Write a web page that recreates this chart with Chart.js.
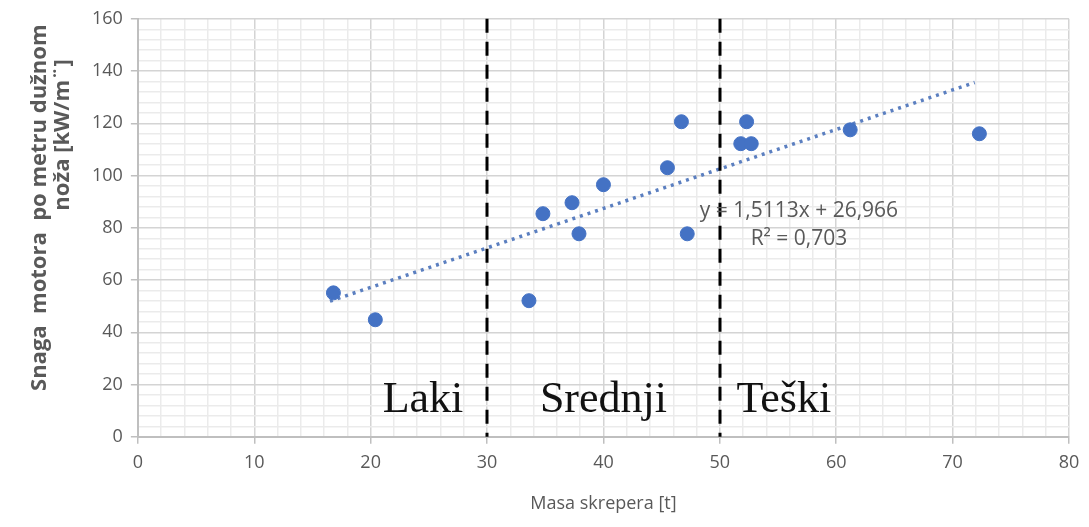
<!DOCTYPE html>
<html>
<head>
<meta charset="utf-8">
<script src="https://cdn.jsdelivr.net/npm/chart.js@4"></script>
<style>
  html, body { margin: 0; padding: 0; background: #fff; }
  #wrap { width: 1089px; height: 527px; }
</style>
</head>
<body>
<div id="wrap"><canvas id="graph"></canvas></div>
<script>
// data
var masa = [16.8, 20.4, 33.6, 34.8, 37.3, 37.9, 40.0, 45.5, 46.7, 47.2, 51.8, 52.3, 52.7, 61.2, 72.3];
var snaga = [55.1, 44.8, 52.1, 85.4, 89.6, 77.7, 96.5, 103, 120.6, 77.7, 112.2, 120.6, 112.2, 117.5, 116];
var trend = [1.5113, 26.966]; // slope, intercept
var granice = [30, 50];
var klase = ["Laki", "Srednji", "Teški"];
var klaseX = [24.5, 40, 55.5];
var klaseY = 14;
var jednadzba = ["y = 1,5113x + 26,966", "R² = 0,703"];
var yNaslov = ["Snaga  motora  po metru dužnom", "noža [kW/m¨]"];

var points = masa.map(function (m, i) { return { x: m, y: snaga[i] }; });
var xMin = Math.min.apply(null, masa) - 0.3;
var xMax = Math.max.apply(null, masa) - 0.4;
var trendPts = [xMin, xMax].map(function (x) { return { x: x, y: trend[0] * x + trend[1] }; });

var grey = "#595959";

var extras = {
  id: "extras",
  afterDatasetsDraw: function (c) {
    var ctx = c.ctx, xs = c.scales.x, ys = c.scales.y, a = c.chartArea;
    ctx.save();
    // class boundaries
    ctx.strokeStyle = "#000";
    ctx.lineWidth = 3;
    ctx.setLineDash([14, 9]);
    granice.forEach(function (g) {
      var px = Math.round(xs.getPixelForValue(g));
      ctx.beginPath();
      ctx.moveTo(px, ys.getPixelForValue(160));
      ctx.lineTo(px, ys.getPixelForValue(0));
      ctx.stroke();
    });
    ctx.setLineDash([]);
    // class names
    ctx.fillStyle = "#111";
    ctx.font = "44px 'Liberation Serif', 'DejaVu Serif', serif";
    ctx.textAlign = "center";
    ctx.textBaseline = "middle";
    klase.forEach(function (k, i) {
      ctx.fillText(k, xs.getPixelForValue(klaseX[i]), ys.getPixelForValue(klaseY));
    });
    // trendline equation
    ctx.fillStyle = grey;
    ctx.font = "21px 'Open Sans', sans-serif";
    ctx.fillText(jednadzba[0], xs.getPixelForValue(56.8), ys.getPixelForValue(86.5));
    ctx.fillText(jednadzba[1], xs.getPixelForValue(56.8), ys.getPixelForValue(75.8));
    // y axis title, two lines as in the original
    ctx.font = "bold 22px 'Open Sans', sans-serif";
    var h = a.bottom - a.top;
    [[40, 0.452], [63, 0.278]].forEach(function (p, i) {
      ctx.save();
      ctx.translate(p[0], a.top + h * p[1]);
      ctx.rotate(-Math.PI / 2);
      ctx.fillText(yNaslov[i], 0, 0);
      ctx.restore();
    });
    ctx.restore();
  }
};

var chart = document.getElementById("graph").getContext("2d");
var graph = new Chart(chart, {
  type: "scatter",
  data: {
    datasets: [
      {
        label: "Snaga",
        data: points,
        backgroundColor: "#4472c4",
        borderColor: "#4472c4",
        pointRadius: 7,
        pointHoverRadius: 7,
        order: 1,
      },
      {
        label: "Trend",
        type: "line",
        data: trendPts,
        borderColor: "#5b7fc0",
        borderWidth: 3.5,
        borderDash: [3, 5],
        pointRadius: 0,
        fill: false,
        order: 2,
      },
    ],
  },
  options: {
    responsive: true,
    maintainAspectRatio: false,
    animation: false,
    layout: {
      padding: { left: 84, right: 20, top: 8, bottom: 8 },
    },
    plugins: {
      legend: { display: false },
      tooltip: { enabled: false },
    },
    scales: {
      x: {
        type: "linear",
        min: 0,
        max: 80,
        ticks: {
          stepSize: 2,
          autoSkip: false,
          maxRotation: 0,
          color: grey,
          padding: 8,
          font: { size: 18, family: "'Open Sans', sans-serif" },
          callback: function (v) { return v % 10 === 0 ? v : ""; },
        },
        grid: {
          color: function (c) { return c.tick && c.tick.value % 10 === 0 ? "#d4d4d4" : "#ebebeb"; },
          tickColor: function (c) { return c.tick && c.tick.value % 10 === 0 ? "#bfbfbf" : "rgba(0,0,0,0)"; },
          tickLength: 7,
          lineWidth: 1.5,
        },
        border: { color: "#bfbfbf", width: 2 },
        title: {
          display: true,
          text: "Masa skrepera [t]",
          color: grey,
          font: { size: 18, family: "'Open Sans', sans-serif" },
          padding: { top: 12 },
        },
      },
      y: {
        min: 0,
        max: 160,
        ticks: {
          stepSize: 4,
          autoSkip: false,
          color: grey,
          padding: 8,
          font: { size: 18, family: "'Open Sans', sans-serif" },
          callback: function (v) { return v % 20 === 0 ? v : ""; },
        },
        grid: {
          color: function (c) { return c.tick && c.tick.value % 20 === 0 ? "#d4d4d4" : "#ebebeb"; },
          tickColor: function (c) { return c.tick && c.tick.value % 20 === 0 ? "#bfbfbf" : "rgba(0,0,0,0)"; },
          tickLength: 7,
          lineWidth: 1.5,
        },
        border: { color: "#bfbfbf", width: 2 },
      },
    },
  },
  plugins: [extras],
});
</script>
</body>
</html>
